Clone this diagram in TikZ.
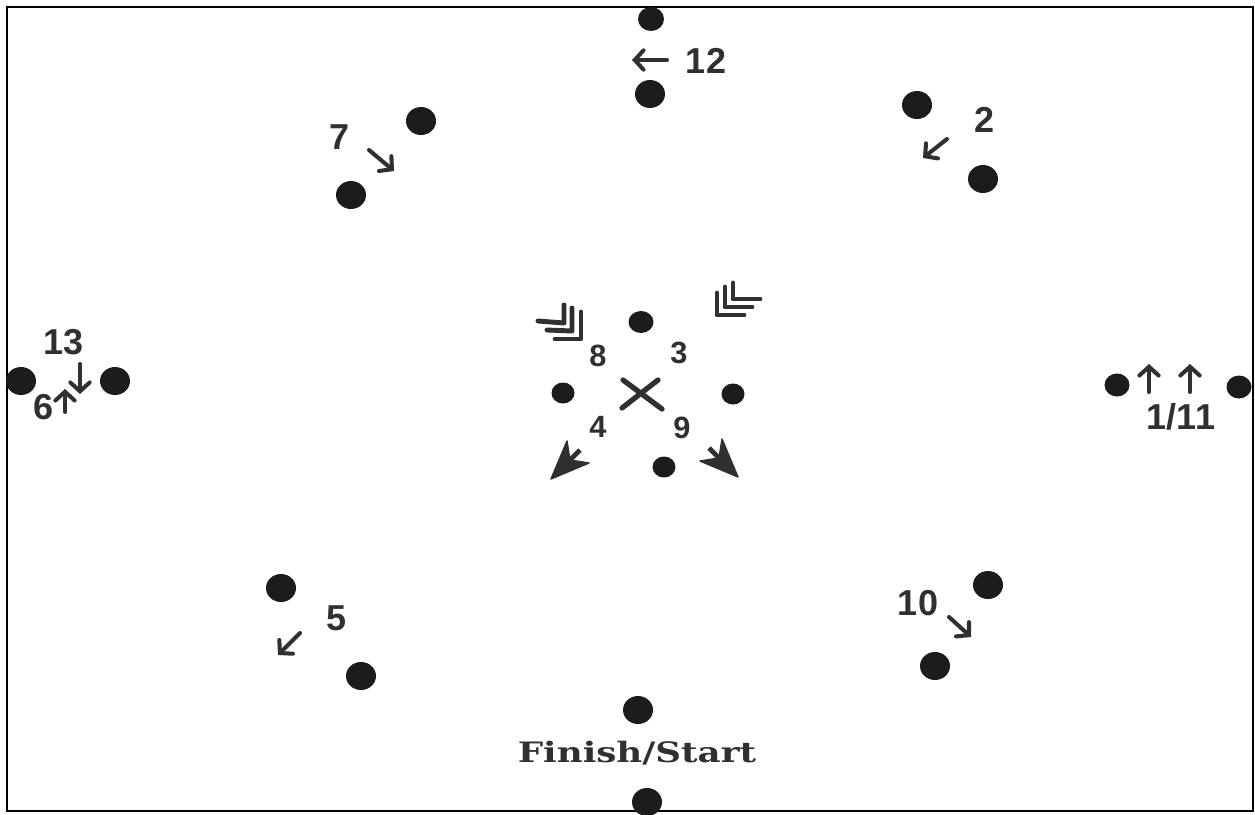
\documentclass[tikz,border=0pt]{standalone}
\usepackage{fontspec}
\setmainfont{Liberation Sans}
\newfontfamily\slabfont{DejaVu Serif}
\usetikzlibrary{arrows.meta,shapes.geometric}
\definecolor{ink}{RGB}{28,28,28}
\definecolor{txt}{RGB}{48,48,48}
\begin{document}
\begin{tikzpicture}[x=0.02cm,y=-0.02cm,
  bigdot/.style={ellipse,fill=ink,inner sep=0pt,minimum width=0.6cm,minimum height=0.56cm},
  meddot/.style={ellipse,fill=ink,inner sep=0pt,minimum width=0.5cm,minimum height=0.46cm},
  smalldot/.style={ellipse,fill=ink,inner sep=0pt,minimum width=0.46cm,minimum height=0.42cm},
  lbl/.style={inner sep=0pt,text=txt,font=\bfseries\fontsize{20.5}{22}\selectfont},
  clbl/.style={inner sep=0pt,text=txt,font=\bfseries\fontsize{17.5}{20}\selectfont},
  sarrow/.style={draw=txt,line width=2.3pt,line cap=round,-{Straight Barb[length=5pt,width=11pt,line cap=round]}},
  feather/.style={draw=txt,line width=2.8pt,line cap=round,line join=round},
  xmark/.style={draw=txt,line width=3pt,line cap=round},
  head/.style={fill=txt,draw=txt,line width=0.8pt,line join=round}]
\useasboundingbox (0,0) rectangle (1255,815);
\fill[white] (0,0) rectangle (1255,815);
\draw[black,line width=1.2pt] (7,7) rectangle (1253,811);

% outer dots
\node[bigdot,minimum width=0.52cm,minimum height=0.48cm] (d12a) at (651,19) {};
\node[bigdot] (d12b) at (650,94) {};
\node[bigdot] (d7a) at (421,121) {};
\node[bigdot] (d7b) at (351,195) {};
\node[bigdot] (d2a) at (917,105) {};
\node[bigdot] (d2b) at (983,179) {};
\node[bigdot] (dL1) at (21,381) {};
\node[bigdot] (dL2) at (115,381) {};
\node[meddot] (dR1) at (1117,385) {};
\node[meddot] (dR2) at (1239,387) {};
\node[bigdot] (d5a) at (281,588) {};
\node[bigdot] (d5b) at (361,676) {};
\node[bigdot] (d10a) at (988,585) {};
\node[bigdot] (d10b) at (935,666) {};
\node[bigdot] (dFa) at (638,710) {};
\node[bigdot] (dFb) at (647,802) {};

% centre dots
\node[smalldot,minimum width=0.5cm,minimum height=0.44cm] (c1) at (641,322) {};
\node[smalldot] (c2) at (563,393) {};
\node[smalldot] (c3) at (733,394) {};
\node[smalldot] (c4) at (664,467) {};

% labels
\node[lbl] (l12) at (706,61) {12};
\node[lbl] (l7) at (340,137) {7};
\node[lbl] (l2) at (985,120) {2};
\node[lbl] (l13) at (64,342) {13};
\node[lbl] (l6) at (44,407) {6};
\node[lbl] (l111) at (1181,417) {1/11};
\node[lbl] (l5) at (337,618) {5};
\node[lbl] (l10) at (918,603) {10};
\node[clbl] (l8) at (598,356) {8};
\node[clbl] (l3) at (679,353) {3};
\node[clbl] (l4) at (598,427) {4};
\node[clbl] (l9) at (682,428) {9};
\node[inner sep=0pt,text=txt,font=\slabfont\bfseries\fontsize{16}{18}\selectfont,xscale=1.27] (lfs) at (637,753) {Finish/Start};

% small arrows
\coordinate (a12s) at (667,60);  \coordinate (a12e) at (632,60);
\coordinate (a7s) at (369,150);  \coordinate (a7e) at (394,171);
\coordinate (a2s) at (947,139);  \coordinate (a2e) at (923,158);
\coordinate (a13s) at (80,364);  \coordinate (a13e) at (80,394);
\coordinate (a6s) at (65,412);   \coordinate (a6e) at (65,389);
\coordinate (a1s) at (1149,392); \coordinate (a1e) at (1149,364);
\coordinate (a11s) at (1190,392);\coordinate (a11e) at (1190,364);
\coordinate (a5s) at (300,633);  \coordinate (a5e) at (278,655);
\coordinate (a10s) at (949,617); \coordinate (a10e) at (971,637);
\draw[sarrow] (a12s) -- (a12e);
\draw[sarrow] (a7s) -- (a7e);
\draw[sarrow] (a2s) -- (a2e);
\draw[sarrow] (a13s) -- (a13e);
\draw[sarrow] (a6s) -- (a6e);
\draw[sarrow] (a1s) -- (a1e);
\draw[sarrow] (a11s) -- (a11e);
\draw[sarrow] (a5s) -- (a5e);
\draw[sarrow] (a10s) -- (a10e);

% centre cross
\draw[xmark] (623,380) -- (662,409);
\draw[xmark] (658,380) -- (622,408);

% fletchings
\draw[feather] (538,321) -- (564,323) -- (564,305);
\draw[feather] (547,330) -- (572,331) -- (572,308);
\draw[feather] (555,339) -- (581,339) -- (581,312);
\draw[feather] (744,315) -- (717,315) -- (717,293);
\draw[feather] (752,307) -- (725,307) -- (725,287);
\draw[feather] (760,299) -- (733,299) -- (733,283);

% arrowheads
\draw[head] (551,479) -- (567,441) -- (570,460) -- (589,463) -- cycle;
\draw[txt,line width=2.8pt] (570,460) -- (580,450);
\draw[head] (738,477) -- (700,461) -- (719,458) -- (722,439) -- cycle;
\draw[txt,line width=2.8pt] (719,458) -- (709,448);
\end{tikzpicture}
\end{document}
